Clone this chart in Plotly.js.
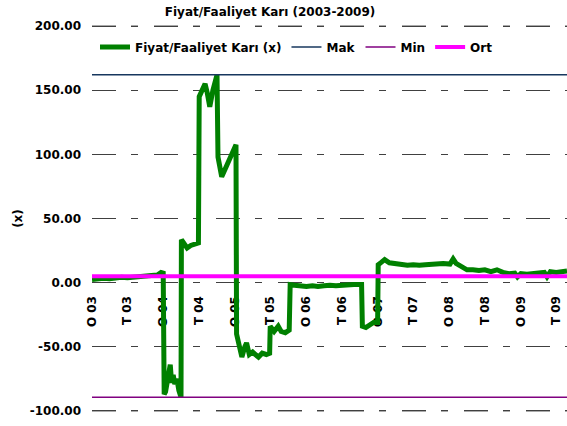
<!DOCTYPE html>
<html>
<head>
<meta charset="utf-8">
<script src="https://cdn.plot.ly/plotly-3.0.1.min.js"></script>
<style>html,body{margin:0;padding:0;background:#fff;}#chart{width:567px;height:426px;}</style>
</head>
<body>
<div id="chart"></div>
<script>
// ---- data ----
const dates = [
 "2003-01-01","2003-02-01","2003-03-01","2003-04-01","2003-05-01","2003-06-01","2003-07-01","2003-08-01","2003-09-01","2003-10-01","2003-11-01","2003-12-01","2003-12-20","2003-12-31",
 "2004-01-05","2004-01-12","2004-01-25","2004-02-05","2004-02-12","2004-02-20","2004-02-28","2004-03-10","2004-03-20","2004-03-31",
 "2004-04-02","2004-04-15","2004-05-01","2004-05-20","2004-06-10","2004-06-28",
 "2004-07-02","2004-07-20","2004-08-01","2004-08-12","2004-08-25","2004-09-10","2004-09-25","2004-10-01",
 "2004-10-06","2004-10-15","2004-10-25","2004-11-10","2004-12-06","2004-12-25","2005-01-06",
 "2005-01-09","2005-01-20","2005-02-05","2005-02-20","2005-03-01","2005-03-15","2005-04-01","2005-04-15","2005-05-01","2005-05-20","2005-06-10","2005-06-27",
 "2005-06-30","2005-07-20","2005-08-10","2005-08-25","2005-09-15","2005-10-05",
 "2005-10-10","2005-11-01","2005-12-01","2006-01-01","2006-02-01","2006-03-01","2006-04-01","2006-05-01","2006-06-01","2006-07-01","2006-08-01","2006-09-01","2006-10-10",
 "2006-10-14","2006-11-01","2006-11-20","2006-12-10","2006-12-31",
 "2007-01-03","2007-01-20","2007-02-05","2007-03-01","2007-04-01","2007-05-01","2007-06-01","2007-07-01","2007-08-01","2007-09-01","2007-10-01","2007-11-01","2007-12-01",
 "2008-01-05","2008-01-21","2008-02-05","2008-02-20","2008-03-10","2008-04-01","2008-05-01","2008-06-01","2008-07-01","2008-08-01","2008-09-01","2008-10-01","2008-11-01","2008-12-01","2008-12-15",
 "2009-01-01","2009-02-01","2009-03-01","2009-04-01","2009-05-01","2009-05-15","2009-06-01","2009-07-01","2009-08-01","2009-08-25"
];
const fkValues = [
 2.5,3.0,3.5,3.0,4.0,4.2,3.8,4.0,4.5,4.8,5.5,6.0,8.0,7.5,
 -87,-85,-70,-64,-78,-72,-79,-75,-84,-89.3,
 33.5,30,27,29,30,31,
 145,150,155,148,137,150,158,162,
 98,88,82.5,88,98,105,107.5,
 -40,-46,-58,-50,-47,-56,-54,-56,-58,-55,-56,-55,
 -34,-38,-34,-38,-39,-37,
 -1.5,-2,-2.5,-3,-2.5,-3,-2.5,-2,-2.5,-2,-1.5,-1.5,-1.5,
 -34,-35,-33,-31,-31,
 14,16,18,15.5,15,14,13.5,14,13.5,14,14.5,15,15,
 14.5,18.5,15,13.5,12.5,10,10,9.5,10,8.5,10,8,7,7.5,4.5,
 7,6.5,7,7.5,8,4.5,8.5,8,9,9
];
const makValue = 162;
const minValue = -89.3;
const ortValue = 5;
const rangeDates = ["2003-01-01","2009-08-25"];
const xTickVals = ["2003-01-01","2003-07-01","2004-01-01","2004-07-01","2005-01-01","2005-07-01","2006-01-01","2006-07-01","2007-01-01","2007-07-01","2008-01-01","2008-07-01","2009-01-01","2009-07-01"];
const xTickText = ["O 03","T 03","O 04","T 04","O 05","T 05","O 06","T 06","O 07","T 07","O 08","T 08","O 09","T 09"];
const yTickVals = [-100,-50,0,50,100,150,200];
const yTickText = ["-100.00","-50.00","0.00","50.00","100.00","150.00","200.00"];

const F = {family:"DejaVu Sans", size:12, color:"#000", weight:700};
const GRID_DASH = "24px,15px,7px,16px";
const GRID_COLOR = "#404040";

// edge gridlines drawn as plain lines (Plotly drops grid lines at the range ends)
const edgeTicks = [yTickVals[0], yTickVals[yTickVals.length-1]];
const edgeGridTraces = edgeTicks.map(v => ({x:rangeDates, y:[v,v], type:"scatter", mode:"lines", showlegend:false, hoverinfo:"skip",
  cliponaxis:false, line:{color:GRID_COLOR, width:1, dash:GRID_DASH}}));

const traces = edgeGridTraces.concat([
 {x:dates, y:fkValues, type:"scatter", mode:"lines", name:"Fiyat/Faaliyet Karı (x)", line:{color:"#008000", width:5}},
 {x:rangeDates, y:[makValue,makValue], type:"scatter", mode:"lines", name:"Mak", line:{color:"#17375E", width:1.6}},
 {x:rangeDates, y:[minValue,minValue], type:"scatter", mode:"lines", name:"Min", line:{color:"#800080", width:1.6}},
 {x:rangeDates, y:[ortValue,ortValue], type:"scatter", mode:"lines", name:"Ort", line:{color:"#FF00FF", width:4}}
]);

const yMin = -101.6, yMax = 201.6;
const layout = {
 width:567, height:426,
 margin:{l:92, r:0, t:24, b:13, autoexpand:false},
 paper_bgcolor:"#fff", plot_bgcolor:"#fff",
 font:F,
 title:{text:"Fiyat/Faaliyet Karı (2003-2009)", font:F, x:270/567, xref:"container", xanchor:"center", y:1-12/426, yref:"container", yanchor:"middle"},
 showlegend:true,
 legend:{orientation:"h", x:(95-92)/475, xref:"paper", xanchor:"left", y:(413-47)/389, yref:"paper", yanchor:"middle", font:F, bgcolor:"rgba(255,255,255,0)", itemwidth:30},
 xaxis:{type:"date", range:rangeDates, anchor:"free", position:(0-yMin)/(yMax-yMin), showgrid:false, zeroline:false, showline:false,
   tickmode:"array", tickvals:xTickVals, ticktext:xTickText, tickangle:-90, ticks:"", ticklabelstandoff:10, tickfont:F, layer:"below traces"},
 yaxis:{range:[yMin,yMax], tickmode:"array", tickvals:yTickVals, ticktext:yTickText, showgrid:true, gridcolor:GRID_COLOR, gridwidth:1,
   griddash:GRID_DASH, zeroline:false, showline:false, ticks:"", ticklabelstandoff:10, tickfont:F,
   title:{text:"(x)", font:F, standoff:4}}
};

Plotly.newPlot("chart", traces, layout, {displayModeBar:false, staticPlot:true});
</script>
</body>
</html>
